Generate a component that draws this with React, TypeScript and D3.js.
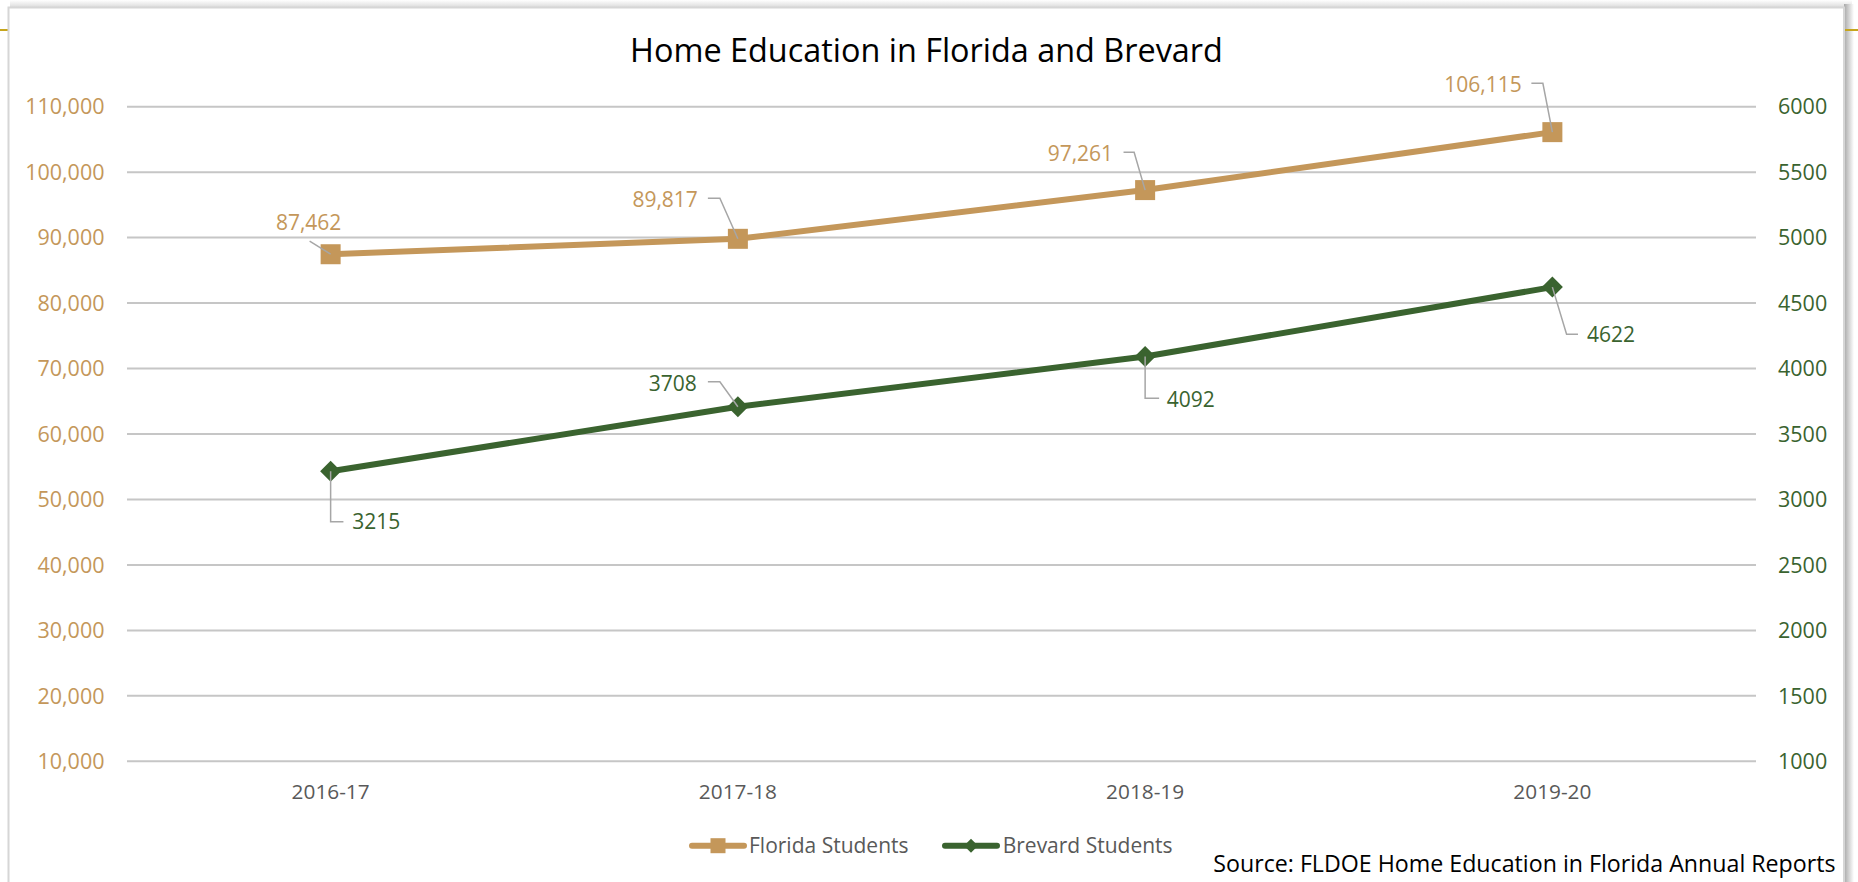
import React from "react";
import * as d3 from "d3";

// ---- Data ----
const categories: string[] = ["2016-17", "2017-18", "2018-19", "2019-20"];
const floridaStudents: number[] = [87462, 89817, 97261, 106115];
const brevardStudents: number[] = [3215, 3708, 4092, 4622];
const leftTicks: number[] = [10000, 20000, 30000, 40000, 50000, 60000, 70000, 80000, 90000, 100000, 110000];
const rightTicks: number[] = [1000, 1500, 2000, 2500, 3000, 3500, 4000, 4500, 5000, 5500, 6000];
const seriesNames: string[] = ["Florida Students", "Brevard Students"];
const titleText = "Home Education in Florida and Brevard";
const sourceText = "Source: FLDOE Home Education in Florida Annual Reports";

// ---- Layout / style ----
const W = 1858;
const H = 882;
const FONT = "'Open Sans', 'Noto Sans', sans-serif";
const TAN = "#C4975A";
const GREEN = "#3A632F";
const GRID = "#C6C6C6";
const LEADER = "#A6A6A6";
const AXIS_TEXT = "#595959";

const plot = { left: 127, right: 1756, top: 106.7, bottom: 761.3 };

// label offsets relative to marker: text anchor, baseline, leader polyline
type LabelLayout = { dx: number; dy: number; anchor: "start" | "middle" | "end"; leader: [number, number][] };
const floridaLabelLayout: LabelLayout[] = [
  { dx: -22, dy: -24, anchor: "middle", leader: [[-21, -13], [0, 0]] },
  { dx: -40, dy: -32, anchor: "end", leader: [[-30, -40.5], [-18, -40.5], [0, 0]] },
  { dx: -32, dy: -29.4, anchor: "end", leader: [[-21.6, -37.8], [-11, -37.8], [0, 0]] },
  { dx: -30.7, dy: -40.4, anchor: "end", leader: [[-21, -48.8], [-9.5, -48.8], [0, 0]] },
];
const brevardLabelLayout: LabelLayout[] = [
  { dx: 21.6, dy: 58, anchor: "start", leader: [[0, 0], [0, 50.4], [12.8, 50.4]] },
  { dx: -41, dy: -16, anchor: "end", leader: [[-30, -25], [-18, -25], [0, 0]] },
  { dx: 21.6, dy: 50.2, anchor: "start", leader: [[0, 0], [0, 41.8], [14, 41.8]] },
  { dx: 34.6, dy: 55.2, anchor: "start", leader: [[0, 0], [14.2, 47.2], [25.6, 47.2]] },
];

export default function App() {
  const x = d3.scalePoint<string>().domain(categories).range([plot.left, plot.right]).padding(0.5);
  const yL = d3.scaleLinear().domain([10000, 110000]).range([plot.bottom, plot.top]);
  const yR = d3.scaleLinear().domain([1000, 6000]).range([plot.bottom, plot.top]);
  const fmtComma = d3.format(",");

  const flPts = floridaStudents.map((v, i) => [x(categories[i]) as number, yL(v)] as [number, number]);
  const brPts = brevardStudents.map((v, i) => [x(categories[i]) as number, yR(v)] as [number, number]);
  const line = d3.line<[number, number]>();
  const leaderLine = d3.line<[number, number]>();

  const sq = 20;
  const diamondPath = (cx: number, cy: number, r: number) =>
    `M${cx},${cy - r}L${cx + r},${cy}L${cx},${cy + r}L${cx - r},${cy}Z`;

  return (
    <svg width={W} height={H} style={{ position: "absolute", left: 0, top: 0, display: "block" }}>
      <defs>
        <linearGradient id="topShadow" x1="0" y1="0" x2="0" y2="1">
          <stop offset="0" stopColor="#ffffff" />
          <stop offset="1" stopColor="#d8d8d8" />
        </linearGradient>
        <linearGradient id="rightShadow" x1="0" y1="0" x2="1" y2="0">
          <stop offset="0" stopColor="#a8a8a8" />
          <stop offset="1" stopColor="#ffffff" />
        </linearGradient>
      </defs>
      <rect x={0} y={0} width={W} height={H} fill="#ffffff" />
      {/* page rule behind the chart */}
      <line x1={0} x2={W} y1={30} y2={30} stroke="#C6A51C" strokeWidth={2} />
      {/* chart frame with shadow */}
      <rect x={10} y={0} width={1842} height={8} fill="url(#topShadow)" />
      <rect x={1844} y={4} width={10} height={H} fill="url(#rightShadow)" />
      <line x1={1845} x2={W} y1={30} y2={30} stroke="#C6A51C" strokeWidth={2} />
      <rect x={8.5} y={7.5} width={1835.5} height={H} fill="#ffffff" stroke="#D6D6D6" strokeWidth={2} />

      {/* title */}
      <text x={926.5} y={62} textAnchor="middle" fontFamily={FONT} fontSize={32.4} fill="#000000">
        {titleText}
      </text>

      {/* gridlines */}
      {leftTicks.map((t) => (
        <line key={"g" + t} x1={plot.left} x2={plot.right} y1={yL(t)} y2={yL(t)} stroke={GRID} strokeWidth={2} />
      ))}

      {/* left axis labels */}
      {leftTicks.map((t) => (
        <text key={"l" + t} x={104.5} y={yL(t)} dy="0.36em" textAnchor="end" fontFamily={FONT} fontSize={21.5} fill={TAN}>
          {fmtComma(t)}
        </text>
      ))}
      {/* right axis labels */}
      {rightTicks.map((t) => (
        <text key={"r" + t} x={1778} y={yR(t)} dy="0.36em" textAnchor="start" fontFamily={FONT} fontSize={21.5} fill={GREEN}>
          {t}
        </text>
      ))}
      {/* category labels */}
      {categories.map((c) => (
        <text key={"c" + c} x={x(c)} y={799} textAnchor="middle" fontFamily={FONT} fontSize={20.8} fill={AXIS_TEXT}>
          {c}
        </text>
      ))}

      {/* series lines */}
      <path d={line(flPts) || ""} fill="none" stroke={TAN} strokeWidth={6} strokeLinejoin="round" />
      <path d={line(brPts) || ""} fill="none" stroke={GREEN} strokeWidth={6} strokeLinejoin="round" />

      {/* markers */}
      {flPts.map(([px, py], i) => (
        <rect key={"fm" + i} x={px - sq / 2} y={py - sq / 2} width={sq} height={sq} fill={TAN} />
      ))}
      {brPts.map(([px, py], i) => (
        <path key={"bm" + i} d={diamondPath(px, py, 10.5)} fill={GREEN} />
      ))}

      {/* leaders */}
      {flPts.map(([px, py], i) => (
        <path
          key={"fl" + i}
          d={leaderLine(floridaLabelLayout[i].leader.map(([a, b]) => [px + a, py + b] as [number, number])) || ""}
          fill="none"
          stroke={LEADER}
          strokeWidth={1.5}
        />
      ))}
      {brPts.map(([px, py], i) => (
        <path
          key={"bl" + i}
          d={leaderLine(brevardLabelLayout[i].leader.map(([a, b]) => [px + a, py + b] as [number, number])) || ""}
          fill="none"
          stroke={LEADER}
          strokeWidth={1.5}
        />
      ))}

      {/* data labels */}
      {flPts.map(([px, py], i) => (
        <text
          key={"ft" + i}
          x={px + floridaLabelLayout[i].dx}
          y={py + floridaLabelLayout[i].dy}
          textAnchor={floridaLabelLayout[i].anchor}
          fontFamily={FONT}
          fontSize={21}
          fill={TAN}
        >
          {fmtComma(floridaStudents[i])}
        </text>
      ))}
      {brPts.map(([px, py], i) => (
        <text
          key={"bt" + i}
          x={px + brevardLabelLayout[i].dx}
          y={py + brevardLabelLayout[i].dy}
          textAnchor={brevardLabelLayout[i].anchor}
          fontFamily={FONT}
          fontSize={21}
          fill={GREEN}
        >
          {brevardStudents[i]}
        </text>
      ))}

      {/* legend */}
      <g>
        <line x1={692} x2={744} y1={845.7} y2={845.7} stroke={TAN} strokeWidth={6} strokeLinecap="round" />
        <rect x={718 - 7.5} y={845.7 - 7.5} width={15} height={15} fill={TAN} />
        <text x={749} y={853.3} fontFamily={FONT} fontSize={21} fill={AXIS_TEXT}>
          {seriesNames[0]}
        </text>
        <line x1={945} x2={997} y1={845.7} y2={845.7} stroke={GREEN} strokeWidth={6} strokeLinecap="round" />
        <path d={diamondPath(971, 845.7, 7)} fill={GREEN} />
        <text x={1002.7} y={853.3} fontFamily={FONT} fontSize={21} fill={AXIS_TEXT}>
          {seriesNames[1]}
        </text>
      </g>

      {/* source */}
      <text x={1213.3} y={872.3} fontFamily={FONT} fontSize={23.2} fill="#000000">
        {sourceText}
      </text>
    </svg>
  );
}
